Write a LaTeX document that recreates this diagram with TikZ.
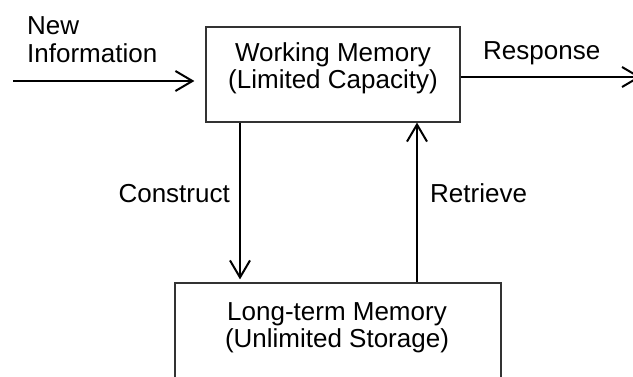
\documentclass[tikz,border=0pt]{standalone}
\usepackage{fontspec}
\setmainfont{Liberation Sans}
\usepackage{tikz}
\usetikzlibrary{arrows.meta}

\begin{document}
\begin{tikzpicture}[x=1pt, y=-1pt,
   memory/.style={draw=black!80, line width=1.2pt, inner sep=0pt},
   lbl/.style={inner sep=0pt, font=\fontsize{26}{27}\selectfont},
   arr/.style={line width=2pt, -{Straight Barb[length=17pt,width=20pt]}}]
 \path[use as bounding box, clip] (0,0) rectangle (633,377);
 % the two stores
 \node[memory, minimum width=254pt, minimum height=95pt] (wm) at (333,74.5) {};
 \node[memory, minimum width=326pt, minimum height=140pt] (lt) at (338,353) {};
 \node[lbl, align=center, anchor=north] (wmtext) at ([yshift=-16.4pt]wm.north) {Working Memory\\(Limited Capacity)};
 \node[lbl, align=center, anchor=north] (lttext) at ([yshift=-20.4pt, xshift=-1pt]lt.north) {Long-term Memory\\(Unlimited Storage)};
 % in and out
 \coordinate (in) at (13,81);
 \coordinate (out) at (641,77);
 \draw[arr, shorten >=11pt] (in) -- (in -| wm.west);
 \draw[arr] (wm.east |- out) -- (out);
 \node[lbl, align=left, anchor=north west] (newinfo) at (27,16.4) {New\\[1pt]Information};
 \node[lbl, anchor=base west] (resp) at (483,60) {Response};
 % between the stores
 \draw[arr, shorten >=3pt] ([xshift=-93pt]wm.south) -- ([xshift=-93pt]wm.south |- lt.north);
 \draw[arr] ([xshift=84pt]wm.south |- lt.north) -- ([xshift=84pt]wm.south);
 \node[lbl, anchor=base east] (constr) at (230,203) {Construct};
 \node[lbl, anchor=base west] (retr) at (430,203) {Retrieve};
\end{tikzpicture}
\end{document}
